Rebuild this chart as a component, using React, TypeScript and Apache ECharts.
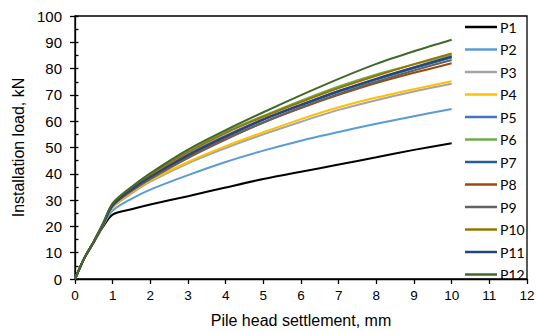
import React, { useEffect, useRef } from "react";
import * as echarts from "echarts";

const xs = [0, 0.25, 0.5, 0.75, 1, 1.5, 2, 3, 4, 5, 6, 7, 8, 9, 10];

const seriesNames = ["P1", "P2", "P3", "P4", "P5", "P6", "P7", "P8", "P9", "P10", "P11", "P12"];
const colors = ["#000000", "#5B9BD5", "#A5A5A5", "#FFC000", "#4472C4", "#70AD47", "#255E91", "#9E480E", "#636363", "#997300", "#264478", "#43682B"];

const p1 = [0, 8, 14, 20, 24.5, 26.5, 28.3, 31.5, 34.8, 38, 40.8, 43.5, 46.3, 49.1, 51.6];
const p2 = [0, 8, 14, 20.5, 26, 30.5, 34, 39.5, 44.5, 48.8, 52.6, 55.9, 59, 61.9, 64.6];
const p3 = [0, 8, 14, 20.8, 27.2, 32.5, 37, 44, 49.8, 55, 59.8, 64.3, 68, 71.3, 74.2];
const p4 = [0, 8, 14, 20.8, 27.4, 33, 37.5, 44.5, 50.5, 55.8, 60.8, 65.3, 69, 72.2, 75.2];
const p5 = [0, 8, 14.2, 21, 28, 34, 39, 47.5, 54.5, 60.8, 66.3, 71.5, 76, 80.2, 84.2];
const p6 = [0, 8, 14.3, 21.3, 28.8, 35, 40.2, 49, 56, 62, 67.8, 73.2, 77.8, 81.6, 85.3];
const p7 = [0, 8, 14.2, 21, 28, 34, 38.8, 47, 54, 60.5, 66, 71.2, 75.8, 80.2, 84.4];
const p8 = [0, 8, 14.2, 21, 28, 33.5, 38.3, 46.3, 53.3, 59.5, 65, 70, 74.5, 78.4, 82];
const p9 = [0, 8, 14.2, 21, 27.8, 33.5, 38, 46, 53, 59.5, 65.2, 70.4, 75, 79.3, 83.3];
const p10 = [0, 8, 14.3, 21.2, 28.5, 34.5, 39.6, 48.2, 55.5, 61.7, 67.3, 72.6, 77.3, 81.7, 85.8];
const p11 = [0, 8, 14.2, 21, 28, 34, 38.8, 47, 54.2, 60.7, 66.2, 71.5, 76.2, 80.5, 84.6];
const p12 = [0, 8, 14.3, 21.3, 28.8, 35, 40.2, 49.2, 56.6, 63.4, 69.9, 76.1, 81.8, 86.6, 91];

const seriesValues = [p1, p2, p3, p4, p5, p6, p7, p8, p9, p10, p11, p12];

const xTicks = [0, 1, 2, 3, 4, 5, 6, 7, 8, 9, 10, 11, 12];
const yTicks = [0, 10, 20, 30, 40, 50, 60, 70, 80, 90, 100];

export default function App() {
  const ref = useRef<HTMLDivElement>(null);
  useEffect(() => {
    if (!ref.current) return;
    const chart = echarts.init(ref.current, undefined, { renderer: "svg" });
    const axisColor = "#000000";
    chart.setOption({
      animation: false,
      backgroundColor: "#ffffff",
      grid: {
        left: 75,
        right: 11,
        top: 16,
        bottom: 54,
        show: true,
        borderColor: "#000000",
        borderWidth: 1.3,
        backgroundColor: "transparent",
      },
      legend: {
        orient: "vertical",
        left: 465,
        top: 20,
        icon: "rect",
        itemWidth: 32,
        itemHeight: 2.5,
        itemGap: 8.5,
        padding: 0,
        data: seriesNames,
        textStyle: { fontSize: 14, lineHeight: 14, fontFamily: "Lato", color: "#000000", padding: [0, 0, 0, -2] },
      },
      xAxis: {
        type: "value",
        min: xTicks[0],
        max: xTicks[xTicks.length - 1],
        interval: 1,
        name: "Pile head settlement, mm",
        nameLocation: "middle",
        nameGap: 33,
        nameTextStyle: { fontSize: 16, fontFamily: "Liberation Sans", color: "#000000" },
        axisLine: { show: true, onZero: false, lineStyle: { color: axisColor, width: 1.3 } },
        axisTick: { show: true, length: 5, lineStyle: { color: axisColor, width: 1.3 } },
        axisLabel: { fontSize: 13.5, fontFamily: "Liberation Sans", color: "#000000", margin: 9 },
        splitLine: { show: false },
      },
      yAxis: [
        {
          type: "value",
          min: yTicks[0],
          max: yTicks[yTicks.length - 1],
          interval: 10,
          name: "Installation load, kN",
          nameLocation: "middle",
          nameGap: 46,
          nameTextStyle: { fontSize: 16, fontFamily: "Liberation Sans", color: "#000000" },
          axisLine: { show: true, onZero: false, lineStyle: { color: axisColor, width: 1.3 } },
          axisTick: { show: true, length: 5, lineStyle: { color: axisColor, width: 1.3 } },
          axisLabel: { fontSize: 15, fontFamily: "Liberation Sans", color: "#000000", margin: 13 },
          splitLine: { show: false },
        },
        {
          type: "value",
          position: "left",
          min: 0,
          max: 100,
          interval: 5,
          axisLine: { show: false },
          axisTick: { show: true, inside: true, length: 3.5, lineStyle: { color: axisColor, width: 1.3 } },
          axisLabel: { show: false },
          splitLine: { show: false },
        },
      ],
      series: seriesNames.map((name, i) => ({
        name,
        type: "line",
        yAxisIndex: 0,
        data: xs.map((x, j) => [x, seriesValues[i][j]]),
        showSymbol: false,
        symbol: "none",
        smooth: 0.3,
        color: colors[i],
        lineStyle: { color: colors[i], width: 2 },
      })),
    });
    return () => chart.dispose();
  }, []);
  return <div ref={ref} style={{ width: 538, height: 333, position: "absolute", left: 0, top: 0 }} />;
}
